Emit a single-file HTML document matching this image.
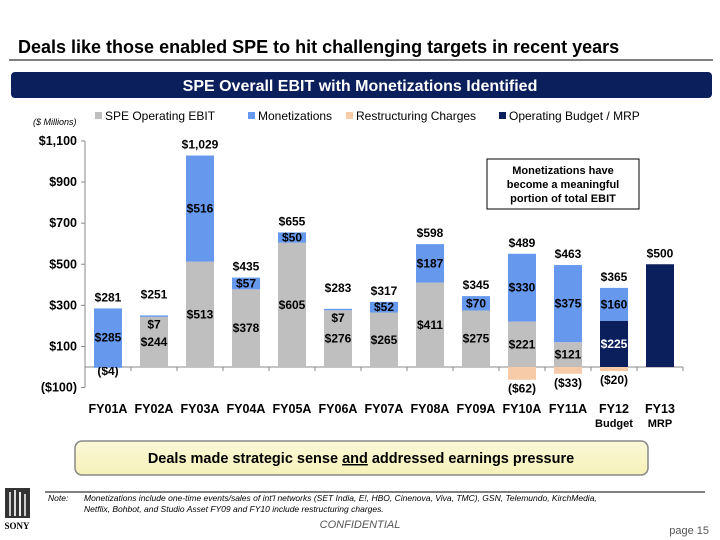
<!DOCTYPE html>
<html><head><meta charset="utf-8"><style>
body{margin:0;background:#fff;font-family:"Liberation Sans",sans-serif}
svg{display:block}
</style></head><body>
<svg id="c" width="720" height="540" xmlns="http://www.w3.org/2000/svg" font-family="Liberation Sans, sans-serif">
<text x="18" y="53" font-size="18" font-weight="bold" fill="#000">Deals like those enabled SPE to hit challenging targets in recent years</text>
<line x1="9" y1="60" x2="713" y2="60" stroke="#000" stroke-width="1"/>
<rect x="11" y="72" width="701" height="26" rx="4" fill="#0b1f5c"/>
<text x="360" y="91" text-anchor="middle" font-size="16" font-weight="bold" fill="#fff">SPE Overall EBIT with Monetizations Identified</text>
<text x="33" y="125" font-size="9" font-style="italic" fill="#000">($ Millions)</text>
<g id="legend" font-size="12" fill="#000">
<rect x="95" y="112" width="7" height="7" fill="#bfbfbf"/><text x="105" y="120">SPE Operating EBIT</text>
<rect x="248" y="112" width="7" height="7" fill="#6699ee"/><text x="258" y="120">Monetizations</text>
<rect x="346" y="112" width="7" height="7" fill="#f7cba8"/><text x="356" y="120">Restructuring Charges</text>
<rect x="499" y="112" width="7" height="7" fill="#0b1f5c"/><text x="509" y="120">Operating Budget / MRP</text>
</g>
<g id="plot"></g>
<rect x="487" y="159" width="152" height="50" fill="#fff" stroke="#000"/>
<text font-size="11" font-weight="bold" text-anchor="middle" fill="#000"><tspan x="563" y="174">Monetizations have</tspan><tspan x="563" y="188">become a meaningful</tspan><tspan x="563" y="202">portion of total EBIT</tspan></text>
<defs><linearGradient id="yg" x1="0" y1="0" x2="0" y2="1"><stop offset="0" stop-color="#fbf8d8"/><stop offset="1" stop-color="#f6f1b8"/></linearGradient></defs>
<rect x="75" y="441" width="573" height="34" rx="7" fill="url(#yg)" stroke="#888" stroke-width="1.5"/>
<text x="361" y="463" text-anchor="middle" font-size="14.5" font-weight="bold" fill="#000">Deals made strategic sense <tspan text-decoration="underline">and</tspan> addressed earnings pressure</text>
<line x1="45" y1="492" x2="705" y2="492" stroke="#000"/>
<g>
<rect x="5" y="488" width="25" height="30" fill="#333"/>
<rect x="9" y="492" width="2" height="24" fill="#ccc"/><rect x="14" y="490" width="2" height="26" fill="#ddd"/><rect x="19" y="492" width="2" height="24" fill="#eee"/><rect x="24" y="494" width="2" height="22" fill="#ccc"/>
<text x="17" y="529" font-size="9" font-weight="bold" text-anchor="middle" font-family="Liberation Serif, serif">SONY</text>
</g>
<text x="48" y="501" font-size="8.5" font-style="italic" fill="#000">Note:</text>
<text font-size="8.5" font-style="italic" fill="#000"><tspan x="84" y="501">Monetizations include one-time events/sales of int'l networks (SET India, E!, HBO, Cinenova, Viva, TMC), GSN, Telemundo, KirchMedia,</tspan><tspan x="84" y="512">Netflix, Bohbot, and Studio Asset FY09 and FY10 include restructuring charges.</tspan></text>
<text x="360" y="528" font-size="11" font-style="italic" text-anchor="middle" fill="#555">CONFIDENTIAL</text>
<text x="709" y="534" font-size="11" text-anchor="end" fill="#555">page 15</text>
</svg>
<script>
const categories=["FY01A","FY02A","FY03A","FY04A","FY05A","FY06A","FY07A","FY08A","FY09A","FY10A","FY11A","FY12","FY13"];
const subLabels=["","","","","","","","","","","","Budget","MRP"];
const ebit=[-4,244,513,378,605,276,265,411,275,221,121,0,0];
const monet=[285,7,516,57,50,7,52,187,70,330,375,160,0];
const restr=[0,0,0,0,0,0,0,0,0,-62,-33,-20,0];
const budget=[0,0,0,0,0,0,0,0,0,0,0,225,500];
const totals=[281,251,1029,435,655,283,317,598,345,489,463,365,500];
const yTicks=[-100,100,300,500,700,900,1100];
const NS="http://www.w3.org/2000/svg";
const g=document.getElementById('plot');
const x0=85,step=46,bw=28,zero=367,k=0.2055;
const y=v=>zero-v*k;
const cx=i=>x0+step*(i+0.5);
const fmt=v=>{const s='$'+Math.abs(v).toLocaleString('en-US');return v<0?'('+s+')':s;};
function el(t,a,txt){const e=document.createElementNS(NS,t);for(const n in a)e.setAttribute(n,a[n]);if(txt!==undefined)e.textContent=txt;g.appendChild(e);return e;}
const ax=el('line',{x1:x0,y1:y(1100),x2:x0,y2:y(-100),stroke:'#888'});


const xa=el('line',{x1:x0,y1:zero,x2:x0+step*categories.length,y2:zero,stroke:'#888'});


yTicks.forEach(v=>{
 const t=el('line',{x1:x0-4,y1:y(v),x2:x0,y2:y(v),stroke:'#888'});
 
 
 const l=el('text',{x:x0-8,y:y(v)+4,'text-anchor':'end','font-size':12.5,'font-weight':'bold'},fmt(v));
 
 
});
categories.forEach((c,i)=>{
 const tk=el('line',{x1:x0+step*(i+1),y1:zero,x2:x0+step*(i+1),y2:zero+4,stroke:'#888'});
 
 
 const l=el('text',{x:cx(i),y:413,'text-anchor':'middle','font-size':12.5,'font-weight':'bold'},c);
 
 
 if(subLabels[i]){const s=el('text',{x:cx(i),y:427,'text-anchor':'middle','font-size':11,'font-weight':'bold'},subLabels[i]);
 
 }
 let base=0;
 function seg(v,color,name,labelColor,showLabel){
  if(!v)return;
  const top=base+v;
  const r=el('rect',{x:cx(i)-bw/2,y:Math.min(y(base),y(top)),width:bw,height:Math.abs(y(top)-y(base)),fill:color});
  
  
  if(showLabel){
   const mid=(y(base)+y(top))/2;
   const t=el('text',{x:cx(i),y:mid+4,'text-anchor':'middle','font-size':12,'font-weight':'bold',fill:labelColor},fmt(v));
   
   
  }
  base=top;
 }
 if(ebit[i]<0){
  const r=el('rect',{x:cx(i)-bw/2,y:zero,width:bw,height:-ebit[i]*k,fill:'#6699ee'});
  
  
  const t=el('text',{x:cx(i),y:zero+8,'text-anchor':'middle','font-size':12,'font-weight':'bold'},fmt(ebit[i]));
  
  
 } else seg(ebit[i],'#bfbfbf','bar-ebit','#000',true);
 seg(budget[i],'#0b1f5c','bar-budget','#fff',i!==categories.length-1);
 seg(monet[i],'#6699ee','bar-monet','#000',monet[i]>=20);
 if(monet[i]>0&&monet[i]<20){
  const t=el('text',{x:cx(i),y:y(base)+13,'text-anchor':'middle','font-size':12,'font-weight':'bold'},fmt(monet[i]));
  
  
 }
 if(restr[i]){
  const r=el('rect',{x:cx(i)-bw/2,y:zero,width:bw,height:-restr[i]*k,fill:'#f7cba8'});
  
  
  const t=el('text',{x:cx(i),y:zero-restr[i]*k+13,'text-anchor':'middle','font-size':12,'font-weight':'bold'},fmt(restr[i]));
  
  
 }
 const topv=Math.max(base,totals[i]);
 const tl=el('text',{x:cx(i),y:y(topv)-(monet[i]>0&&monet[i]<20?17:7),'text-anchor':'middle','font-size':12,'font-weight':'bold'},fmt(totals[i]));
 
 
});
</script>
</body></html>
